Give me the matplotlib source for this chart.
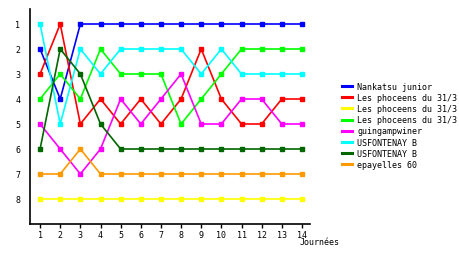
"""
Classement par journee
"""
import matplotlib
matplotlib.use("Agg")
import matplotlib.pyplot as plt
from matplotlib.lines import Line2D

journees = list(range(1, 15))

teams = ["Nankatsu junior", "Les phoceens du 31/3", "Les phoceens du 31/3",
         "Les phoceens du 31/3", "guingampwiner", "USFONTENAY B",
         "USFONTENAY B", "epayelles 60"]

nankatsu = [2, 4, 1, 1, 1, 1, 1, 1, 1, 1, 1, 1, 1, 1]
phoceens_a = [3, 1, 5, 4, 5, 4, 5, 4, 2, 4, 5, 5, 4, 4]
phoceens_b = [8, 8, 8, 8, 8, 8, 8, 8, 8, 8, 8, 8, 8, 8]
phoceens_c = [4, 3, 4, 2, 3, 3, 3, 5, 4, 3, 2, 2, 2, 2]
guingamp = [5, 6, 7, 6, 4, 5, 4, 3, 5, 5, 4, 4, 5, 5]
usfontenay_a = [1, 5, 2, 3, 2, 2, 2, 2, 3, 2, 3, 3, 3, 3]
usfontenay_b = [6, 2, 3, 5, 6, 6, 6, 6, 6, 6, 6, 6, 6, 6]
epayelles = [7, 7, 6, 7, 7, 7, 7, 7, 7, 7, 7, 7, 7, 7]

series = [nankatsu, phoceens_a, phoceens_b, phoceens_c,
          guingamp, usfontenay_a, usfontenay_b, epayelles]
colors = ["#0000ff", "#ff0000", "#ffff00", "#00ff00",
          "#ff00ff", "#00ffff", "#006600", "#ff9900"]

plt.rcParams["font.family"] = "DejaVu Sans Mono"
plt.rcParams["font.size"] = 6

fig = plt.figure(figsize=(4.6, 2.55), dpi=100)
ax = fig.add_axes([30 / 460, 30 / 255, 280 / 460, 215 / 255])

handles = []
for name, values, color in zip(teams, series, colors):
    ax.plot(journees, values, color=color, linewidth=1.2, marker="s",
            markersize=2.2)
    # legend shows just a thick line, no marker
    handles.append(Line2D([], [], color=color, linewidth=2.2, label=name))

ax.set_xlim(0.5, 14.4)
ax.set_ylim(9, 0.4)
ax.set_xticks(journees)
ax.set_yticks(range(1, 9))
ax.tick_params(axis="y", length=0, pad=7)
ax.tick_params(axis="x", length=3, width=1, pad=1)
for side in ["top", "right"]:
    ax.spines[side].set_visible(False)
for side in ["left", "bottom"]:
    ax.spines[side].set_linewidth(1.2)

fig.text(300 / 460, 1 - 243 / 255, "Journées", fontsize=6, va="center")

fig.legend(handles=handles, loc="upper left",
           bbox_to_anchor=(338 / 460, 1 - 79 / 255),
           frameon=False, handlelength=1.2, handletextpad=0.6,
           labelspacing=0.25, borderpad=0, fontsize=6)

fig.savefig("out.png", dpi=100)
